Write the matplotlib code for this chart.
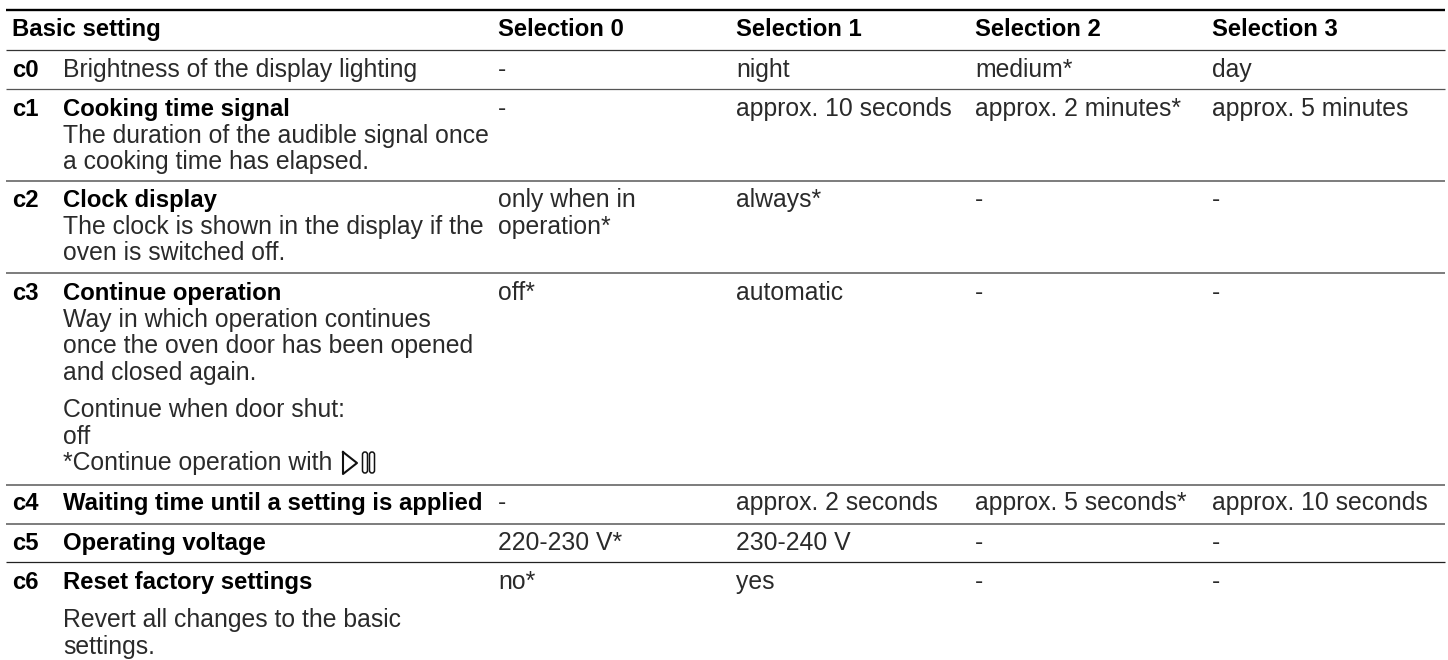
import matplotlib
matplotlib.use('Agg')
import matplotlib.pyplot as plt
from matplotlib.patches import FancyBboxPatch

plt.rcParams['font.family'] = ['Liberation Sans', 'DejaVu Sans']

headers = ['Basic setting', 'Selection 0', 'Selection 1', 'Selection 2', 'Selection 3']
codes = ['c0', 'c1', 'c2', 'c3', 'c4', 'c5', 'c6']
titles = ['', 'Cooking time signal', 'Clock display', 'Continue operation',
          'Waiting time until a setting is applied', 'Operating voltage', 'Reset factory settings']
descriptions = [
    ['Brightness of the display lighting'],
    ['The duration of the audible signal once', 'a cooking time has elapsed.'],
    ['The clock is shown in the display if the', 'oven is switched off.'],
    ['Way in which operation continues', 'once the oven door has been opened', 'and closed again.'],
    [],
    [],
    [],
]
extra_c3 = ['Continue when door shut:', 'off', '*Continue operation with']
extra_c6 = ['Revert all changes to the basic', 'settings.']
selection0 = ['-', '-', ['only when in', 'operation*'], 'off*', '-', '220-230 V*', 'no*']
selection1 = ['night', 'approx. 10 seconds', 'always*', 'automatic', 'approx. 2 seconds', '230-240 V', 'yes']
selection2 = ['medium*', 'approx. 2 minutes*', '-', '-', 'approx. 5 seconds*', '-', '-']
selection3 = ['day', 'approx. 5 minutes', '-', '-', 'approx. 10 seconds', '-', '-']

row_y = [77, 116, 207, 300, 510, 550, 589]
rule_y = [50, 89, 181, 273, 485, 524, 562]
rule_c = ['#333333', '#555555', '#666666', '#666666', '#666666', '#666666', '#222222']
rule_w = [0.9, 0.9, 1.2, 1.2, 1.2, 1.2, 0.9]
col_x = [498, 736, 975, 1212]
fs_bold = 17.2
fs_reg = 17.8
lh = 26.6
ink = '#2a2a2a'

fig = plt.figure(figsize=(14.48, 6.6), dpi=100)
ax = fig.add_axes([0, 0, 1, 1])
ax.set_xlim(0, 1448)
ax.set_ylim(660, 0)
ax.axis('off')


def put(x, y, s, bold=False):
    # whole pixel baselines, otherwise neighbours in a row jitter by one pixel
    ax.text(x, round(y), s, fontsize=fs_bold if bold else fs_reg, color='#000000' if bold else ink,
            va='baseline', ha='left', fontweight='bold' if bold else 'normal')


ax.hlines(10, 6, 1445, color='#000000', lw=1.7)
ax.hlines(rule_y, 6, 1445, colors=rule_c, linewidths=rule_w)

put(12, 36, headers[0], True)
for x, h in zip(col_x, headers[1:]):
    put(x, 36, h, True)

for i, code in enumerate(codes):
    y = row_y[i]
    put(12, y, code, True)
    if titles[i]:
        put(63, y, titles[i], True)
        for k, line in enumerate(descriptions[i]):
            put(63, y + lh * (k + 1), line)
    else:
        put(63, y, descriptions[i][0])
    for x, col in zip(col_x, [selection0, selection1, selection2, selection3]):
        val = col[i]
        if isinstance(val, list):
            for k, line in enumerate(val):
                put(x, y + lh * k, line)
        else:
            put(x, y, val)

for k, line in enumerate(extra_c3):
    put(63, 417 + lh * k, line)
for k, line in enumerate(extra_c6):
    put(63, 627 + lh * k, line)

# start/pause symbol
ax.plot([343, 343, 357, 343], [452, 474, 463, 452], color='#111111', lw=1.5, solid_joinstyle='round')
for x in (362.5, 369.5):
    ax.add_patch(FancyBboxPatch((x, 452), 5, 21, boxstyle='round,pad=0,rounding_size=2.5',
                                fc='none', ec='#111111', lw=1.1))

fig.savefig('out.png', dpi=100)
